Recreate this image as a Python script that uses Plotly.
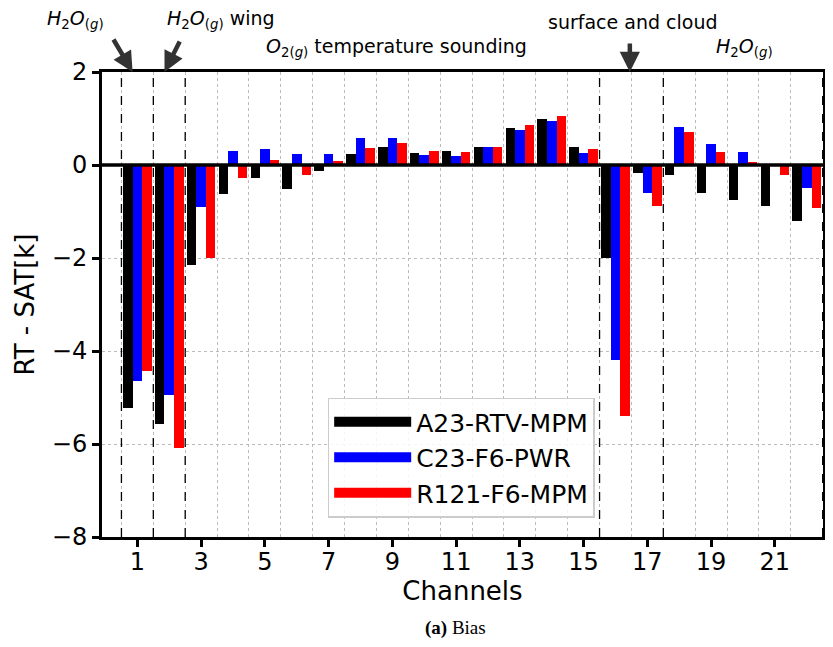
import plotly.graph_objects as go

channels = list(range(1, 23))
a23_rtv_mpm = [-5.23, -5.57, -2.14, -0.63, -0.27, -0.52, -0.12, 0.24, 0.39, 0.26, 0.31,
               0.39, 0.80, 0.99, 0.39, -1.99, -0.18, -0.22, -0.61, -0.75, -0.89, -1.21]
c23_f6_pwr = [-4.64, -4.95, -0.91, 0.31, 0.35, 0.24, 0.24, 0.59, 0.59, 0.22, 0.20,
              0.39, 0.76, 0.95, 0.26, -4.19, -0.61, 0.82, 0.46, 0.29, -0.02, -0.50]
r121_f6_mpm = [-4.43, -6.09, -2.01, -0.27, 0.11, -0.22, 0.09, 0.37, 0.48, 0.31, 0.29,
               0.39, 0.85, 1.06, 0.35, -5.40, -0.89, 0.72, 0.29, 0.07, -0.22, -0.93]
series_names = ["A23-RTV-MPM", "C23-F6-PWR", "R121-F6-MPM"]
series_colors = ["#000000", "#0000ff", "#ff0000"]
x_tick_vals = list(range(1, 23, 2))
y_tick_vals = [-8, -6, -4, -2, 0, 2]
band_boundaries = [0.5, 1.5, 2.5, 15.5, 17.5, 22.5]

FONT = "DejaVu Sans"
fig = go.Figure()
bar_width = 0.3
offsets = [-0.45, -0.15, 0.15]
for vals, name, col, off in zip([a23_rtv_mpm, c23_f6_pwr, r121_f6_mpm],
                                series_names, series_colors, offsets):
    fig.add_trace(go.Bar(x=channels, y=vals, width=bar_width, offset=off,
                         marker=dict(color=col, line=dict(width=0)),
                         name=name, showlegend=False))
# legend keys (wide rectangles)
for name, col in zip(series_names, series_colors):
    fig.add_trace(go.Scatter(x=[None], y=[None], mode="lines", name=name,
                             line=dict(color=col, width=18)))

for b in band_boundaries:
    fig.add_shape(type="line", x0=b, x1=b, y0=0, y1=1, xref="x", yref="paper",
                  line=dict(color="black", width=1.3, dash="dash"), layer="above")
fig.add_shape(type="line", x0=0, x1=1, y0=0, y1=0, xref="paper", yref="y",
              line=dict(color="black", width=3.5), layer="above")

def h2o():
    return "<i>H</i><sub>2</sub><i>O</i><sub>(<i>g</i>)</sub>"

ann_font = dict(family=FONT, size=19, color="black")
anns = [
    dict(text=h2o(), x=-0.037, y=1.112),
    dict(text=h2o() + " wing", x=0.165, y=1.112),
    dict(text="<i>O</i><sub>2(<i>g</i>)</sub> temperature sounding", x=0.408, y=1.052),
    dict(text="surface and cloud", x=0.736, y=1.108),
    dict(text=h2o(), x=0.891, y=1.052),
]
for a in anns:
    fig.add_annotation(xref="paper", yref="paper", showarrow=False, font=ann_font,
                       xanchor="center", yanchor="middle", **a)
# arrows
for tipx, ax, ay in [(0.85, -20, -34), (1.85, 16, -32), (16.45, 0, -30)]:
    fig.add_annotation(x=tipx, y=2, xref="x", yref="y", text="", showarrow=True,
                       ax=ax, ay=ay, arrowhead=2, arrowsize=0.9, arrowwidth=4.5,
                       arrowcolor="#333333", standoff=0)

fig.add_annotation(text="<b>(a)</b> Bias", xref="paper", yref="paper", x=0.49, y=-0.196,
                   xanchor="center", yanchor="middle", showarrow=False,
                   font=dict(family="Liberation Serif, DejaVu Serif", size=19, color="black"))

# page body has an 8px margin, so the figure is sized/offset to compensate
fig.update_layout(
    width=817, height=631,
    margin=dict(l=94, r=2, t=64, b=102),
    paper_bgcolor="white", plot_bgcolor="white",
    barmode="overlay", bargap=0,
    font=dict(family=FONT, color="black"),
    legend=dict(x=0.313, y=0.30, xanchor="left", yanchor="top",
                bgcolor="rgba(255,255,255,0.85)", bordercolor="#cccccc", borderwidth=1.5,
                font=dict(family=FONT, size=25, color="black"), itemwidth=77),
    xaxis=dict(range=[-0.11, 22.51], tickvals=x_tick_vals, ticks="outside", ticklen=7,
               tickwidth=2.5, tickcolor="black", showline=True, linewidth=3,
               linecolor="black", mirror=True, showgrid=False, zeroline=False,
               automargin=False, ticklabelstandoff=-6,
               tickfont=dict(family=FONT, size=24),
               title=dict(text="Channels", font=dict(family=FONT, size=26), standoff=0),
               minor=dict(tick0=0.5, dtick=1, showgrid=True, griddash="dot",
                          gridcolor="#bbbbbb", gridwidth=1, ticklen=0)),
    yaxis=dict(range=[-8, 2], tickvals=y_tick_vals, ticks="outside", ticklen=7,
               tickwidth=2.5, tickcolor="black", showline=True, linewidth=3,
               linecolor="black", mirror=True, showgrid=True, griddash="dot",
               gridcolor="#bbbbbb", gridwidth=1, zeroline=False,
               automargin=False,
               tickfont=dict(family=FONT, size=24),
               title=dict(text="RT - SAT[k]", font=dict(family=FONT, size=26), standoff=10)),
)
fig.write_html("out.html")
